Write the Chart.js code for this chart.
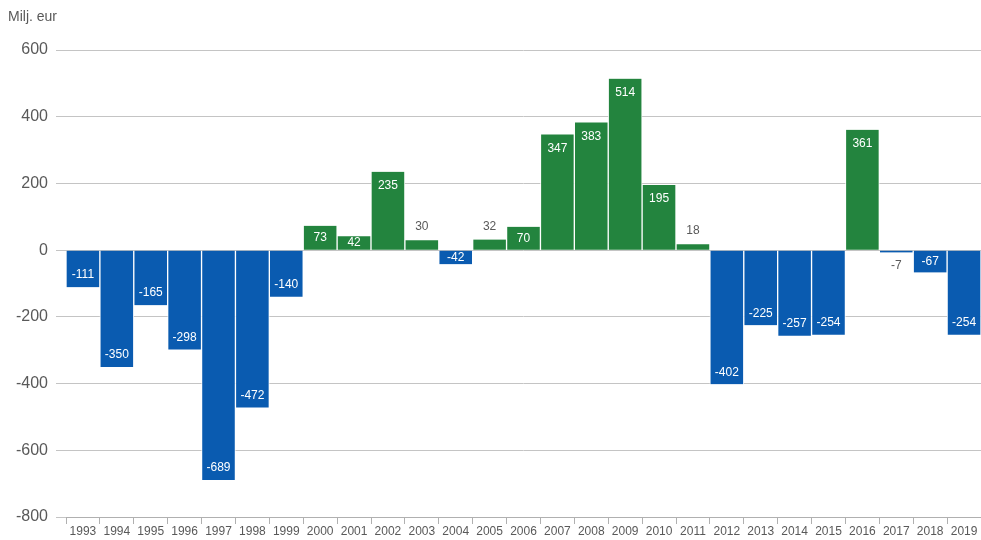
<!DOCTYPE html>
<html>
<head>
<meta charset="utf-8">
<script src="https://cdn.jsdelivr.net/npm/chart.js@4/dist/chart.umd.min.js"></script>
<style>
  html, body { margin: 0; padding: 0; background: #fff; }
  #wrap { width: 981px; height: 540px; position: relative; }
</style>
</head>
<body>
<div id="wrap"><canvas id="c"></canvas></div>
<script>
// Annual balance, million euro
const years = ['1993','1994','1995','1996','1997','1998','1999','2000','2001','2002','2003','2004','2005','2006','2007','2008','2009','2010','2011','2012','2013','2014','2015','2016','2017','2018','2019'];
const values = [-111,-350,-165,-298,-689,-472,-140,73,42,235,30,-42,32,70,347,383,514,195,18,-402,-225,-257,-254,361,-7,-67,-254];
const yTicks = [-800,-600,-400,-200,0,200,400,600];
const unitLabel = 'Milj. eur';

const BLUE = '#0A5BB0';
const GREEN = '#23843E';
const TEXT = '#595959';
const FONT = '"Liberation Sans", Arial, sans-serif';

// Value labels: inside the bar end when it fits, otherwise just outside it
const valueLabels = {
  id: 'valueLabels',
  afterDatasetsDraw(chart) {
    const ctx = chart.ctx;
    const meta = chart.getDatasetMeta(0);
    ctx.save();
    ctx.font = '12px ' + FONT;
    ctx.textAlign = 'center';
    ctx.textBaseline = 'middle';
    meta.data.forEach((bar, i) => {
      const v = values[i];
      const end = bar.y, base = bar.base;
      const h = Math.abs(base - end);
      const dir = v >= 0 ? 1 : -1; // +1 means bar extends upward
      let y, color;
      if (h >= 12) {
        const off = Math.min(v >= 0 ? 14 : 12, h / 2);
        y = end + dir * off;
        color = '#fff';
      } else {
        y = end - dir * 13;
        color = TEXT;
      }
      ctx.fillStyle = color;
      ctx.fillText(String(v), bar.x, y);
    });
    ctx.restore();
  }
};

// Unit caption above the value axis
const unitCaption = {
  id: 'unitCaption',
  afterDraw(chart) {
    const ctx = chart.ctx;
    ctx.save();
    ctx.font = '14px ' + FONT;
    ctx.fillStyle = TEXT;
    ctx.textAlign = 'left';
    ctx.textBaseline = 'middle';
    ctx.fillText(unitLabel, 8, 17);
    ctx.restore();
  }
};

new Chart(document.getElementById('c'), {
  type: 'bar',
  data: {
    labels: years,
    datasets: [{
      data: values,
      backgroundColor: values.map(v => v >= 0 ? GREEN : BLUE),
      borderColor: 'rgba(255,255,255,0.85)',
      borderWidth: { left: 1, right: 1, top: 0, bottom: 0 },
      borderSkipped: false,
      barPercentage: 1,
      categoryPercentage: 1
    }]
  },
  options: {
    responsive: true,
    maintainAspectRatio: false,
    animation: false,
    layout: { padding: { top: 50, right: 0, left: 0, bottom: 0 } },
    plugins: { legend: { display: false }, tooltip: { enabled: false } },
    scales: {
      x: {
        offset: true,
        grid: {
          offset: true,
          drawOnChartArea: false,
          drawTicks: true,
          tickLength: 7,
          color: '#b0b0b0'
        },
        border: { display: true, color: '#b0b0b0' },
        ticks: {
          color: TEXT,
          font: { family: FONT, size: 12 },
          padding: 0,
          maxRotation: 0,
          autoSkip: false
        },
        afterFit(scale) { scale.height = 23; }
      },
      y: {
        min: -800,
        max: 600,
        afterBuildTicks(scale) { scale.ticks = yTicks.map(v => ({ value: v })); },
        grid: {
          color: '#c4c4c4',
          tickLength: 10,
          drawTicks: true
        },
        border: { display: false },
        ticks: {
          color: TEXT,
          font: { family: FONT, size: 16 },
          padding: 8
        },
        afterFit(scale) { scale.width = 66; }
      }
    }
  },
  plugins: [valueLabels, unitCaption]
});
</script>
</body>
</html>
